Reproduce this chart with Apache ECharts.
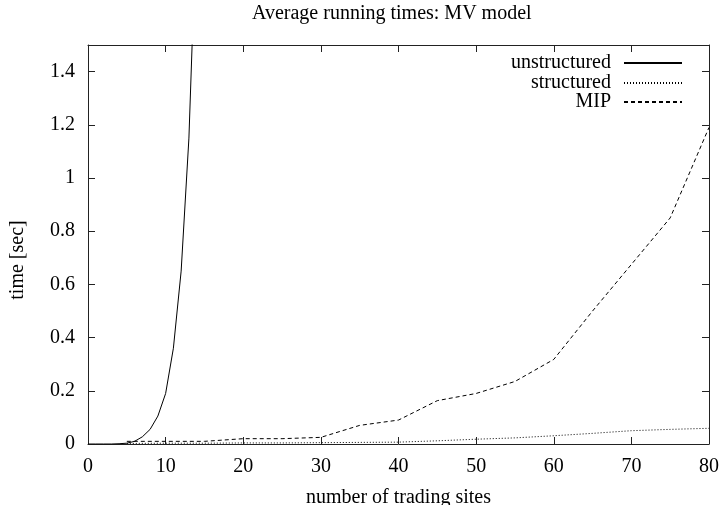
<!DOCTYPE html>
<html>
<head>
<meta charset="utf-8">
<script src="https://cdn.jsdelivr.net/npm/echarts@6/dist/echarts.min.js"></script>
<style>html,body{margin:0;padding:0;background:#fff;}#c{width:720px;height:505px;}</style>
</head>
<body>
<div id="c"></div>
<script>
var xTicks = [0, 10, 20, 30, 40, 50, 60, 70, 80];
var unstructuredX = [0, 1, 2, 3, 4, 5, 6, 7, 8, 9, 10, 11, 12, 13, 14];
var unstructuredY = [0, 0, 0, 0, 0.001, 0.003, 0.01, 0.027, 0.055, 0.105, 0.19, 0.36, 0.65, 1.15, 2.0];
var sitesX = [5, 10, 15, 20, 25, 30, 35, 40, 45, 50, 55, 60, 65, 70, 75, 80];
var structuredY = [0.002, 0.003, 0.003, 0.004, 0.004, 0.005, 0.006, 0.007, 0.012, 0.018, 0.023, 0.031, 0.04, 0.05, 0.055, 0.059];
var mipY = [0.01, 0.01, 0.01, 0.02, 0.02, 0.025, 0.07, 0.09, 0.163, 0.19, 0.235, 0.318, 0.5, 0.675, 0.85, 1.19];

function pairs(xs, ys) { return xs.map(function (x, i) { return [x, ys[i]]; }); }

var FONT = 'Liberation Serif';
var AX = '#222';
var chart = echarts.init(document.getElementById('c'));
function legendFor(name, top) {
  return {
    data: [name], right: 37, top: top, align: 'right', orient: 'vertical',
    padding: 0, itemWidth: 58, itemHeight: 14, selectedMode: false,
    itemStyle: { opacity: 0 },
    textStyle: { fontFamily: FONT, fontSize: 20, color: '#000', padding: [0, 8, 0, 0] }
  };
}
var tick = { show: true, inside: true, length: 7, lineStyle: { color: AX } };
var axLine = { show: true, onZero: false, lineStyle: { color: AX } };
chart.setOption({
  animation: false,
  backgroundColor: '#fff',
  title: {
    text: 'Average running times: MV model', left: 252, top: 4, padding: 0,
    textStyle: { fontFamily: FONT, fontSize: 20, fontWeight: 'normal', color: '#000' }
  },
  legend: [legendFor('unstructured', 53), legendFor('structured', 73), legendFor('MIP', 92)],
  grid: { left: 88, right: 11, top: 45, bottom: 61, containLabel: false, outerBoundsMode: 'none' },
  xAxis: [{
    type: 'value', min: 0, max: 80, interval: 10, position: 'bottom',
    name: 'number of trading sites', nameLocation: 'middle', nameGap: 44,
    nameTextStyle: { fontFamily: FONT, fontSize: 20, color: '#000' },
    axisLine: axLine,
    axisTick: tick,
    axisLabel: { fontFamily: FONT, fontSize: 20, color: '#000', margin: 13,
      formatter: function (v) { return xTicks.indexOf(v) >= 0 ? String(v) : ''; } },
    splitLine: { show: false }
  }, {
    type: 'value', min: 0, max: 80, interval: 10, position: 'top',
    axisLine: axLine,
    axisTick: tick, axisLabel: { show: false }, splitLine: { show: false }
  }],
  yAxis: [{
    type: 'value', min: 0, max: 1.5, interval: 0.2, position: 'left',
    name: 'time [sec]', nameLocation: 'middle', nameGap: 60, nameRotate: 90,
    nameTextStyle: { fontFamily: FONT, fontSize: 20, color: '#000', padding: [0, 31, 0, 0] },
    axisLine: axLine,
    axisTick: tick,
    axisLabel: { fontFamily: FONT, fontSize: 20, color: '#000', margin: 13, showMaxLabel: false },
    splitLine: { show: false }
  }, {
    type: 'value', min: 0, max: 1.5, interval: 0.2, position: 'right',
    axisLine: axLine,
    axisTick: tick, axisLabel: { show: false }, splitLine: { show: false }
  }],
  series: [{
    name: 'unstructured', type: 'line', data: pairs(unstructuredX, unstructuredY),
    symbol: 'none', clip: true, color: '#000',
    lineStyle: { color: '#000', width: 1, type: 'solid' }
  }, {
    name: 'structured', type: 'line', data: pairs(sitesX, structuredY),
    symbol: 'none', clip: true, color: '#000',
    lineStyle: { color: '#000', width: 1, type: [1, 2] }
  }, {
    name: 'MIP', type: 'line', data: pairs(sitesX, mipY),
    symbol: 'none', clip: true, color: '#000',
    lineStyle: { color: '#000', width: 1, type: [4, 3] }
  }]
});
</script>
</body>
</html>
